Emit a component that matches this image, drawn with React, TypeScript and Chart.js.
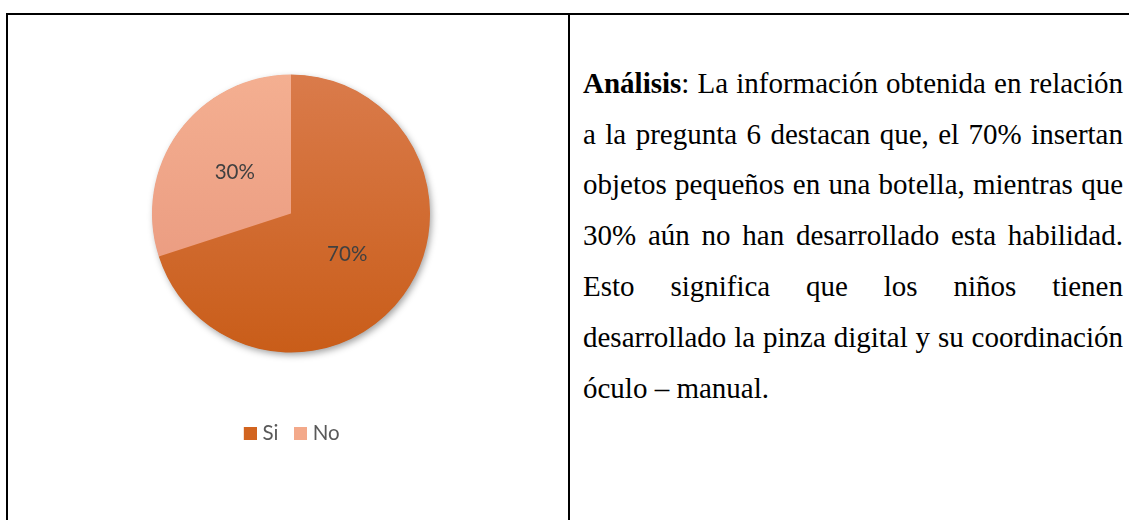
import React, { useEffect, useRef } from "react";
import { Chart, registerables } from "chart.js";

Chart.register(...registerables);

const categories = ["Si", "No"];
const values = [70, 30];
const topColors = ["#DA7B4B", "#F4AF91"];
const bottomColors = ["#C95D19", "#E7947A"];
const legendColors = ["#D2641F", "#F3A98A"];

const textLines = [
  "La información obtenida en relación",
  "a la pregunta 6 destacan que, el 70% insertan",
  "objetos pequeños en una botella, mientras que",
  "30% aún no han desarrollado esta habilidad.",
  "Esto significa que los niños tienen",
  "desarrollado la pinza digital y su coordinación",
  "óculo – manual.",
];

const RADIUS = 139;

function makeSwatch(color: string): HTMLCanvasElement {
  const c = document.createElement("canvas");
  c.width = 19;
  c.height = 13;
  const g = c.getContext("2d");
  if (g) {
    g.fillStyle = color;
    g.fillRect(6, 0, 13, 13);
  }
  return c;
}

export default function App() {
  const canvasRef = useRef<HTMLCanvasElement | null>(null);

  useEffect(() => {
    const canvas = canvasRef.current;
    if (!canvas) return;

    const swatches = legendColors.map(makeSwatch);

    const shadowPlugin = {
      id: "pieShadow",
      beforeDatasetsDraw(chart: any) {
        const meta = chart.getDatasetMeta(0);
        const arc = meta.data[0];
        if (!arc) return;
        const { x, y, outerRadius } = arc.getProps(["x", "y", "outerRadius"], true);
        const c = chart.ctx;
        c.save();
        c.shadowColor = "rgba(0,0,0,0.38)";
        c.shadowBlur = 7;
        c.shadowOffsetX = 2;
        c.shadowOffsetY = 3;
        c.beginPath();
        c.arc(x, y, outerRadius - 0.5, 0, Math.PI * 2);
        c.fillStyle = "#D4661F";
        c.fill();
        c.restore();
      },
    };

    const labelPlugin = {
      id: "pctLabels",
      afterDatasetsDraw(chart: any) {
        const meta = chart.getDatasetMeta(0);
        const c = chart.ctx;
        c.save();
        c.font = "20.5px Lato";
        c.fillStyle = "#404040";
        c.textAlign = "center";
        c.textBaseline = "middle";
        meta.data.forEach((el: any, i: number) => {
          const p = el.tooltipPosition(true);
          c.fillText(values[i] + "%", p.x, p.y);
        });
        c.restore();
      },
    };

    const chart = new Chart(canvas, {
      type: "pie",
      data: {
        labels: categories,
        datasets: [
          {
            data: values,
            radius: RADIUS,
            borderWidth: 0,
            backgroundColor: (ctx: any) => {
              const ch = ctx.chart;
              const area = ch.chartArea;
              const i = ctx.dataIndex ?? 0;
              if (!area) return legendColors[i];
              const cy = (area.top + area.bottom) / 2;
              const g = ch.ctx.createLinearGradient(0, cy - RADIUS, 0, cy + RADIUS);
              g.addColorStop(0, topColors[i]);
              g.addColorStop(1, bottomColors[i]);
              return g;
            },
          } as any,
        ],
      },
      options: {
        animation: false,
        responsive: false,
        devicePixelRatio: 1,
        layout: { padding: { top: 1.75, bottom: 2.2, left: 0, right: 0 } },
        plugins: {
          tooltip: { enabled: false },
          legend: {
            display: true,
            position: "bottom",
            labels: {
              usePointStyle: true,
              pointStyleWidth: 10,
              boxHeight: 13,
              padding: 14,
              color: "#595959",
              font: { family: "Lato", size: 20.5 },
              generateLabels: () =>
                categories.map((t, i) => ({
                  text: t,
                  fillStyle: legendColors[i],
                  strokeStyle: legendColors[i],
                  lineWidth: 0,
                  hidden: false,
                  index: i,
                  pointStyle: swatches[i],
                  fontColor: "#595959",
                })),
            },
          },
        },
      } as any,
      plugins: [shadowPlugin, labelPlugin],
    });

    return () => chart.destroy();
  }, []);

  const lineStyle = (last: boolean): React.CSSProperties =>
    ({
      height: 50.8,
      lineHeight: "50.8px",
      whiteSpace: "nowrap",
      textAlign: last ? "left" : "justify",
      textAlignLast: last ? "left" : "justify",
    } as React.CSSProperties);

  return (
    <div style={{ position: "relative", width: 1129, height: 520, overflow: "hidden", background: "#fff", margin: 0 }}>
      <style>{"body{margin:0;background:#fff;}"}</style>
      <div style={{ position: "absolute", left: 6, top: 13, width: 1123, height: 2, background: "#000" }} />
      <div style={{ position: "absolute", left: 6, top: 13, width: 2, height: 507, background: "#000" }} />
      <div style={{ position: "absolute", left: 568, top: 13, width: 2, height: 507, background: "#000" }} />
      <canvas
        ref={canvasRef}
        width={400}
        height={440}
        style={{ position: "absolute", left: 91, top: 16, width: 400, height: 440 }}
      />
      <div
        style={{
          position: "absolute",
          left: 583,
          top: 57.8,
          width: 540,
          fontFamily: "'Liberation Serif', 'Times New Roman', serif",
          fontSize: 29,
          color: "#000",
        }}
      >
        {textLines.map((t, i) => (
          <div key={i} style={lineStyle(i === textLines.length - 1)}>
            {i === 0 ? (
              <>
                <b>Análisis</b>: {t}
              </>
            ) : (
              t
            )}
          </div>
        ))}
      </div>
    </div>
  );
}
